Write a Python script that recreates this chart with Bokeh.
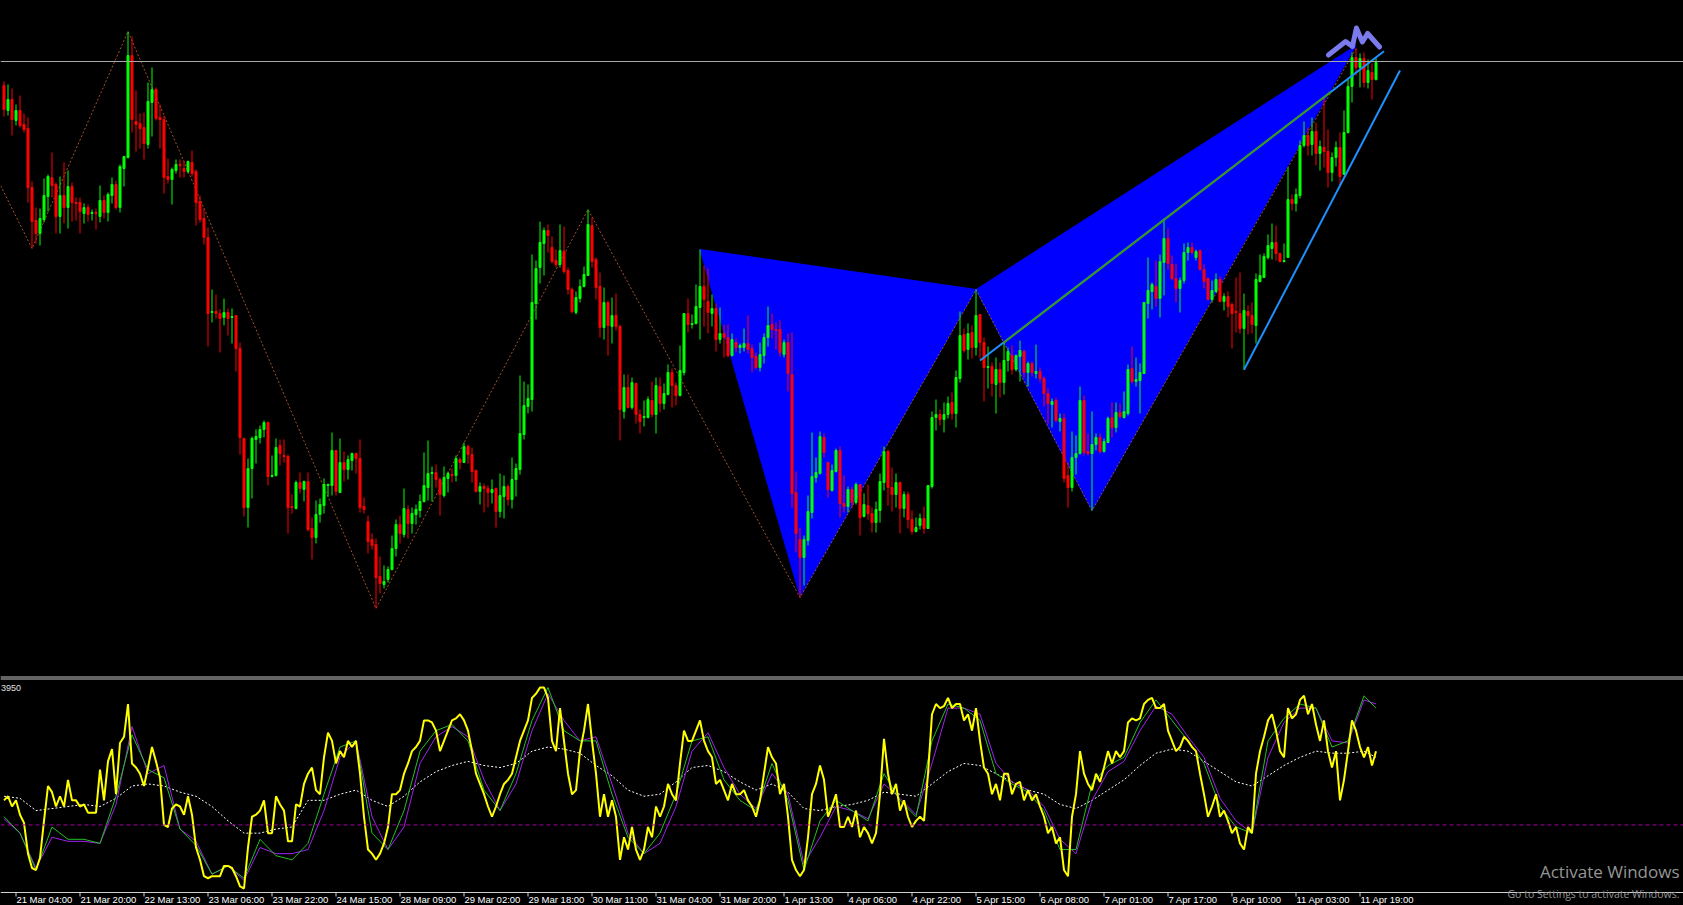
import numpy as np
from bokeh.plotting import figure
from bokeh.models import Range1d, Span, Label, ColumnDataSource
from bokeh.core.properties import value
from bokeh.embed import file_html
from bokeh.resources import INLINE

# ---------------- data (H1 candles, price in points) ----------------
open_ = [595,570,581,560,570,556,552,493,460,447,
461,484,503,496,464,485,473,494,478,478,
467,473,467,468,464,480,468,485,496,473,
512,523,625,559,557,553,536,578,591,563,
561,504,501,510,516,512,509,518,509,479,
462,443,368,369,367,363,368,363,365,332,
242,173,212,241,243,251,258,204,205,235,
225,224,174,172,198,191,199,152,143,166,
175,195,195,230,188,218,211,220,227,222,
174,159,141,136,104,96,101,111,132,156,
146,171,157,166,170,179,193,207,208,201,
185,202,206,205,221,218,234,226,210,189,
194,192,188,192,169,184,194,181,201,211,
246,274,281,377,413,437,450,433,420,416,
429,410,391,368,382,394,405,455,421,394,
353,378,354,365,354,269,293,273,297,266,
263,263,280,266,294,277,286,308,295,285,
308,367,356,357,373,394,379,367,372,341,
347,343,325,338,333,333,337,332,324,313,
325,343,356,351,351,326,338,306,188,141,
123,140,168,203,207,243,218,190,209,230,
177,174,191,178,196,164,175,167,158,170,
198,229,193,186,198,172,186,161,149,155,
162,152,194,263,266,261,266,278,267,302,
346,331,348,333,366,338,313,314,296,311,
298,320,325,311,324,329,308,317,307,309,
302,287,276,280,259,262,205,193,223,227,
280,229,227,236,243,229,238,263,253,268,
263,267,312,299,300,307,377,389,394,382,
418,442,416,402,392,400,428,433,423,430,
411,402,381,389,401,379,384,376,369,367,
352,369,365,355,399,403,423,432,438,427,
419,423,481,477,485,535,545,536,549,527,
533,529,508,523,533,506,548,594,623,613,
622,598,608,601]

close = [571,581,561,570,555,551,493,459,447,462,
485,504,495,464,485,473,494,478,477,469,
473,466,468,467,480,468,486,496,473,514,
524,625,561,556,552,537,579,591,562,561,
503,501,511,516,515,509,519,507,478,461,
443,367,369,367,362,368,362,364,332,243,
173,212,242,244,251,258,204,205,233,227,
224,173,173,198,192,199,151,143,166,176,
196,196,230,189,218,211,221,227,222,173,
171,139,135,103,97,99,111,132,156,147,
172,157,167,171,179,195,207,208,201,186,
203,207,205,222,218,234,226,209,189,194,
192,188,191,169,185,194,181,201,212,247,
275,282,378,412,438,450,445,419,416,430,
409,391,369,383,394,406,456,419,393,353,
378,355,365,354,271,293,273,298,266,259,
264,281,266,295,277,287,308,295,285,310,
367,356,357,374,394,381,368,372,341,347,
343,325,341,333,335,337,331,323,313,326,
343,355,351,350,328,338,307,187,147,123,
141,169,204,208,244,228,191,210,230,177,
174,191,178,196,163,176,167,158,171,199,
229,193,186,198,172,186,161,149,153,162,
152,195,263,266,261,266,277,267,303,345,
330,347,333,365,338,313,314,297,311,298,
320,329,311,325,330,308,317,308,309,302,
287,277,279,260,262,202,193,223,227,280,
228,227,236,243,229,239,262,253,268,264,
269,311,299,301,308,378,390,396,382,419,
442,417,402,392,400,428,433,428,429,411,
399,381,390,401,379,384,374,367,368,352,
370,365,356,401,405,424,435,438,427,419,
420,481,477,486,535,545,535,549,527,534,
529,508,523,533,504,548,594,623,613,622,
598,610,601,618]

high = [599,596,592,576,585,567,563,499,473,472,
502,506,528,498,504,518,510,498,483,483,
477,476,471,472,495,485,488,503,500,516,
524,649,644,590,567,568,598,613,593,576,
565,522,513,521,521,520,520,530,511,485,
472,453,391,386,371,382,372,372,365,338,
243,222,244,251,255,260,259,225,242,241,
241,226,186,200,208,200,208,163,180,182,
202,197,248,230,242,229,225,228,228,241,
183,165,147,142,124,115,114,145,161,165,
192,175,173,176,186,228,240,214,216,203,
214,209,212,225,223,238,236,233,211,198,
197,195,201,193,207,205,196,223,217,305,
299,296,426,420,459,453,456,444,431,456,
454,413,393,389,401,414,471,463,423,408,
393,380,383,387,356,306,306,303,298,271,
280,284,299,303,303,297,316,312,298,335,
367,382,366,396,431,415,412,386,377,373,
356,356,347,342,337,352,365,336,328,338,
347,374,367,358,360,341,347,348,209,153,
145,185,248,223,249,247,219,216,232,234,
205,194,194,198,196,187,196,173,179,207,
234,231,213,207,199,189,189,170,163,167,
174,195,269,281,271,278,284,288,310,369,
352,357,355,391,366,343,334,318,323,318,
338,333,335,326,340,331,319,319,336,313,
304,292,282,283,267,267,218,249,245,294,
285,247,269,247,247,242,264,278,278,277,
289,316,334,323,317,378,423,398,420,426,
462,452,425,417,403,437,438,438,431,431,
416,403,400,407,404,387,389,378,403,408,
387,375,378,407,426,427,446,457,455,428,
437,513,486,492,540,559,553,563,558,540,
584,551,528,539,548,570,601,628,632,627,
628,621,617,623]

low = [564,565,545,555,553,548,478,432,437,435,
458,469,483,447,447,457,452,459,460,447,
457,459,460,451,458,462,459,477,471,468,
494,522,548,529,532,521,532,544,560,532,
487,497,476,507,503,503,507,504,455,458,
436,334,358,362,328,355,345,337,309,226,
164,153,182,217,237,243,195,203,204,215,
218,147,167,171,187,179,149,121,137,158,
167,184,185,185,188,199,201,210,207,168,
167,127,131,72,87,92,98,110,124,137,
143,142,147,156,163,178,180,179,193,165,
183,188,198,199,211,218,217,198,188,176,
168,173,177,153,163,162,175,172,184,206,
241,267,269,361,397,405,428,417,413,413,
407,386,367,366,378,393,405,413,381,343,
341,325,337,350,240,262,272,271,257,247,
254,262,263,247,268,271,285,273,275,284,
305,348,352,356,341,354,347,354,329,337,
323,323,324,328,327,329,327,308,311,309,
317,334,342,331,324,323,289,173,128,83,
95,135,162,198,206,223,183,189,208,163,
168,168,173,176,145,163,161,148,148,158,
190,175,169,173,147,163,152,146,148,151,
147,152,192,250,255,248,262,261,253,298,
328,321,322,325,322,279,292,284,267,283,
286,309,306,309,299,303,294,304,302,298,
274,257,253,258,249,198,173,189,206,226,
225,225,170,230,227,228,238,243,248,262,
262,265,297,294,267,307,362,371,374,363,
385,411,400,378,368,397,420,426,420,410,
392,380,378,388,378,370,363,332,348,347,
311,346,347,337,398,403,421,421,420,418,
418,423,470,469,482,533,525,525,515,510,
513,493,499,514,495,506,547,578,605,593,
593,592,581,600]

# time-axis labels (every 16 bars)
tick_bars = [3,19,35,51,67,83,99,115,131,147,163,179,195,211,227,243,259,275,291,307,323,339]
tick_labels = ["21 Mar 04:00","21 Mar 20:00","22 Mar 13:00","23 Mar 06:00","23 Mar 22:00",
               "24 Mar 15:00","28 Mar 09:00","29 Mar 02:00","29 Mar 18:00","30 Mar 11:00",
               "31 Mar 04:00","31 Mar 20:00","1 Apr 13:00","4 Apr 06:00","4 Apr 22:00",
               "5 Apr 15:00","6 Apr 08:00","7 Apr 01:00","7 Apr 17:00","8 Apr 10:00",
               "11 Apr 03:00","11 Apr 19:00"]

# zigzag pivots (bar, price)
zz_bar = [-8, 7, 31, 93, 146, 199, 243, 272, 338]
zz_price = [552, 432, 649, 72, 471, 83, 391, 170, 632]

# harmonic pattern X-A-B and B-C-D triangles
tri1_bar = [174, 199, 243]
tri1_price = [431, 84, 391]
tri2_bar = [243, 272, 338]
tri2_price = [391, 170, 635]

# trend lines
tl_blue_bar = [244, 345]
tl_blue_price = [320, 629.3]
tl_green_bar = [249.85, 331.7]
tl_green_price = [337.5, 588.5]
ch_low_bar = [310, 349]
ch_low_price = [310.7, 610]
hline_price = 619

# pattern icon (M shape) in bar/price
icon_bar = [331.1, 335.4, 337.1, 338.1, 339.6, 340.9, 343.9]
icon_price = [625.5, 639, 634, 652.5, 638.5, 647, 633.5]

# oscillator (0-100)
osc_main = [43,45,40,43,36,32,17,10,9,15,
33,50,47,40,45,40,53,43,43,40,
41,37,37,37,58,43,62,68,46,71,
74,90,61,59,56,50,59,69,62,54,
31,30,39,41,40,36,45,36,20,14,
6,5,6,6,6,11,11,10,6,1,
0,20,35,36,38,43,27,27,45,41,
38,23,23,41,40,51,56,59,48,46,
64,76,72,61,67,64,72,69,72,56,
35,19,17,14,17,22,30,46,46,48,
56,61,67,69,72,82,82,81,77,67,
72,77,82,83,85,82,77,67,56,51,
46,40,35,40,46,51,53,56,64,72,
77,82,93,95,98,98,93,72,67,88,
72,56,46,48,67,77,90,72,56,35,
46,35,43,35,14,25,19,30,19,14,
19,30,25,40,35,40,51,46,43,61,
77,72,72,77,82,72,67,64,51,53,
48,43,51,46,46,48,43,40,35,43,
56,69,64,61,46,51,35,14,9,6,
9,25,46,51,60,53,35,40,46,30,
30,35,30,38,25,30,27,22,27,46,
73,56,46,51,38,43,35,30,33,35,
33,56,85,90,88,89,93,88,90,90,
82,85,77,88,72,59,56,46,51,43,
56,56,46,51,52,43,48,43,46,40,
35,27,30,22,25,9,6,35,46,67,
56,51,48,56,52,59,67,61,67,64,
67,81,83,82,83,90,92,93,88,88,
90,77,72,67,69,74,72,69,67,56,
46,35,40,46,35,38,33,27,30,22,
19,30,27,56,67,74,82,85,77,67,
64,88,83,85,92,94,85,90,80,72,
82,67,59,67,43,53,67,82,77,69,
64,69,60,67]

osc_sig_bar = [0,4,8,12,16,20,24,28,32,36,40,44,48,52,56,60,64,68,72,
76,80,84,88,92,96,100,104,108,112,116,120,124,128,132,136,140,144,148,152,156,
160,164,168,172,176,180,184,188,192,196,200,204,208,212,216,220,224,228,232,236,
240,244,248,252,256,260,264,268,272,276,280,284,288,292,296,300,304,308,312,316,
320,324,328,332,336,340,343]
osc_fast = [35,27,9,30,24,24,22,45,75,58,54,29,21,7,11,5,24,16,14,
22,46,69,72,27,19,38,67,77,80,72,48,38,56,82,98,77,72,72,46,25,
17,27,46,72,74,53,43,38,61,43,9,33,43,38,33,56,43,35,72,90,
88,82,56,51,47,38,19,19,51,60,64,81,92,82,72,61,40,30,27,72,
83,90,88,69,72,94,88]
osc_slow = [34,27,10,25,23,23,22,41,79,56,60,29,23,7,11,4,20,17,17,
19,38,64,72,35,19,30,61,74,79,74,53,38,51,77,95,82,72,74,51,27,
17,22,40,67,76,59,46,39,56,46,12,25,40,38,34,51,44,36,61,88,
88,85,61,52,48,40,24,17,43,57,62,77,89,85,74,64,44,33,27,64,
81,88,88,72,71,92,90]
osc_avg = [45,44,38,39,40,41,40,44,50,51,50,47,45,40,33,27,27,29,30,
43,43,46,48,43,40,45,52,57,60,62,60,59,61,67,69,68,66,60,55,48,
45,46,52,59,60,57,52,48,51,47,39,38,40,41,43,47,46,45,51,57,
61,60,56,52,48,46,41,39,43,48,53,60,66,68,67,62,57,52,50,55,
60,64,67,66,66,67,64]
osc_level = 31

n = len(close)
assert len(open_) == n and len(high) == n and len(low) == n and len(osc_main) == n
assert len(osc_sig_bar) == len(osc_fast) == len(osc_slow) == len(osc_avg)

# ---------------- layout constants ----------------
W, H = 1683, 905
BAR0_PX, BAR_PX = 3.5, 4.0          # pixel column of bar 0 and bar spacing
PRICE_TOP = 680                      # price at the top edge
OSC_TOP_PX, OSC_BOT_PX = 683, 888    # pixel rows of osc 100 / 0
osc_px = (OSC_BOT_PX - OSC_TOP_PX) / 100.0
AXIS_PX = 892                        # time-scale line row


def px_to_price(row):
    return PRICE_TOP - row


x_range = Range1d((0 - BAR0_PX) / BAR_PX, (W - BAR0_PX) / BAR_PX)
y_range = Range1d(px_to_price(H), PRICE_TOP)

p = figure(width=W, height=H, x_range=x_range, y_range=y_range,
           output_backend="svg", toolbar_location=None, min_border=0,
           x_axis_location=None, y_axis_location=None, background_fill_color="black",
           border_fill_color="black", outline_line_color=None)
p.extra_y_ranges = {"osc": Range1d(-(H - OSC_BOT_PX) / osc_px,
                                   100 + OSC_TOP_PX / osc_px)}
p.xgrid.visible = False
p.ygrid.visible = False

# ---------------- main price window ----------------
p.patches([tri1_bar, tri2_bar], [tri1_price, tri2_price], fill_color="#0000ff",
          line_color="#0000ff", line_width=1)
p.add_layout(Span(location=hline_price, dimension="width", line_color="#a8a8a8", line_width=1))
p.line(zz_bar, zz_price, line_color="#a0522d", line_width=1, line_dash="2 2")

o = np.array(open_, float); c = np.array(close, float)
hi = np.maximum(np.array(high, float), np.maximum(o, c))
lo = np.minimum(np.array(low, float), np.minimum(o, c))
col = np.where(c >= o, "#00ff00", "#ff0000")
src = ColumnDataSource(dict(x=np.arange(n), hi=hi, lo=lo,
                            top=np.maximum(o, c), bot=np.minimum(o, c), col=col))
p.segment(x0="x", y0="lo", x1="x", y1="hi", line_color="col", line_width=1, source=src)
p.vbar(x="x", top="top", bottom="bot", width=0.5, fill_color="col", line_color="col",
       line_width=1, source=src)

p.line(tl_blue_bar, tl_blue_price, line_color="#1e90ff", line_width=2)
p.line(tl_green_bar, tl_green_price, line_color="#3c9614", line_width=2)
p.line(ch_low_bar, ch_low_price, line_color="#1e90ff", line_width=2)
p.line(icon_bar, icon_price, line_color="#7b7bee", line_width=5,
       line_cap="round", line_join="round")

# ---------------- oscillator window ----------------
p.add_layout(Span(location=px_to_price(676.5), dimension="width", line_color="#c8c8c8", line_width=1))
p.add_layout(Span(location=px_to_price(678.5), dimension="width", line_color="#c8c8c8", line_width=1))
p.add_layout(Span(location=osc_level, dimension="width", y_range_name="osc",
                  line_color="#a000a0", line_width=1, line_dash="4 3"))
p.line(osc_sig_bar, osc_avg, y_range_name="osc", line_color="#ffffff", line_width=1,
       line_dash="2 2")
p.line(osc_sig_bar, osc_slow, y_range_name="osc", line_color="#a020f0", line_width=1)
p.line(osc_sig_bar, osc_fast, y_range_name="osc", line_color="#22c022", line_width=1)
p.line(list(range(n)), osc_main, y_range_name="osc", line_color="#ffff00", line_width=2)
p.text(x=[(0.5 - BAR0_PX) / BAR_PX], y=[97.6], text=["3950"], y_range_name="osc",
       text_align="left", text_baseline="middle", text_color="#e0e0e0",
       text_font=value("Liberation Sans"), text_font_size="9px")

# ---------------- time scale ----------------
p.add_layout(Span(location=px_to_price(AXIS_PX), dimension="width",
                  line_color="#d0d0d0", line_width=1))
p.segment(x0=tick_bars, y0=[px_to_price(AXIS_PX)] * len(tick_bars),
          x1=tick_bars, y1=[px_to_price(AXIS_PX + 4)] * len(tick_bars),
          line_color="#d0d0d0", line_width=1)
p.text(x=[b + 0.1 for b in tick_bars], y=[px_to_price(AXIS_PX + 1.5)] * len(tick_bars),
       text=tick_labels, text_align="left", text_baseline="top", text_color="#ffffff",
       text_font=value("Liberation Sans"), text_font_size="9.5px")

# watermark
wm_x = (1679 - BAR0_PX) / BAR_PX
p.add_layout(Label(x=wm_x, y=px_to_price(882), text="Activate Windows", text_color="#969696",
                   text_align="right", text_font="Open Sans", text_font_size="17px"))
p.add_layout(Label(x=wm_x, y=px_to_price(900), text="Go to Settings to activate Windows.",
                   text_color="#969696", text_align="right", text_font="Open Sans",
                   text_font_size="10.5px"))

TEMPLATE = """
{% block preamble %}
<style>
html, body { margin: 0 !important; padding: 0 !important; background: #000000 !important; overflow: hidden !important; }
</style>
{% endblock %}
"""
open("out.html", "w").write(file_html(p, INLINE, title="chart", template=TEMPLATE))
